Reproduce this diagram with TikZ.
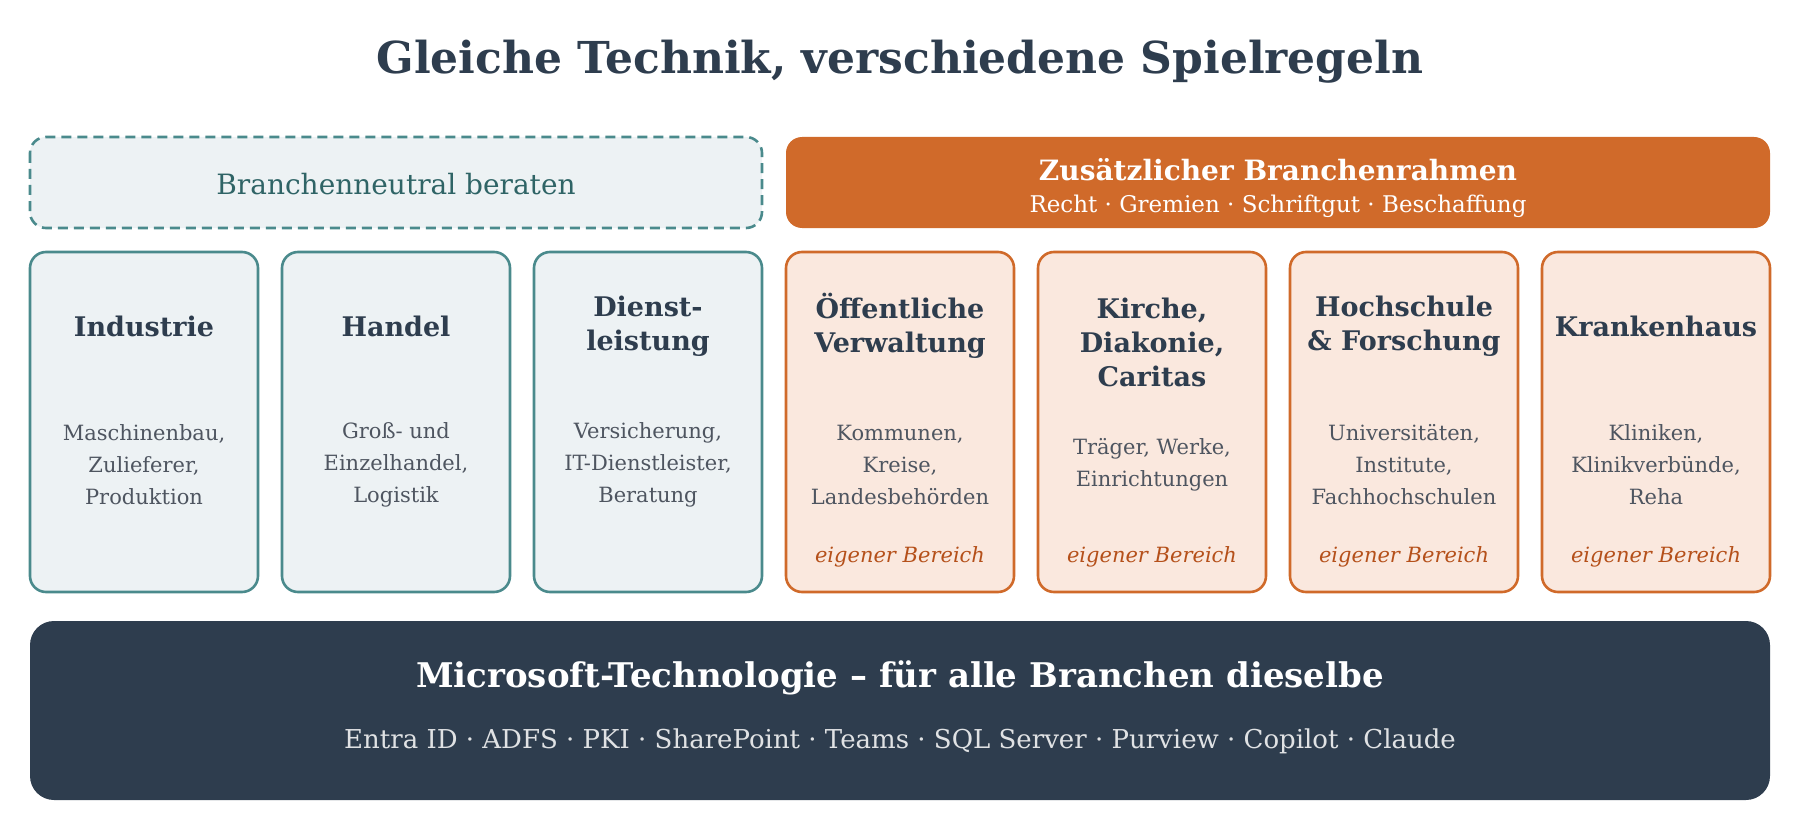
\documentclass[tikz,border=0pt]{standalone}
\usepackage{fontspec}
\setmainfont{DejaVu Serif}
\definecolor{dark}{HTML}{2E3D4E}
\definecolor{teal}{HTML}{4A8A8C}
\definecolor{tealfill}{HTML}{EDF2F4}
\definecolor{tealtext}{HTML}{2F6466}
\definecolor{orng}{HTML}{D06A2A}
\definecolor{orngfill}{HTML}{FAE8DE}
\definecolor{orngtext}{HTML}{B5501A}
\definecolor{graytext}{HTML}{4E5560}
\begin{document}
\begin{tikzpicture}[x=0.5pt,y=-0.5pt,
  tcard/.style={draw=teal,fill=tealfill,line width=1.3pt,rounded corners=8pt},
  ocard/.style={draw=orng,fill=orngfill,line width=1.3pt,rounded corners=8pt},
  ctitle/.style={font=\fontsize{13.5}{17}\selectfont\bfseries,text=dark,align=center},
  cbody/.style={font=\fontsize{10.5}{16}\selectfont,text=graytext,align=center},
  cown/.style={font=\fontsize{10.5}{13}\selectfont\itshape,text=orngtext}]
\useasboundingbox (0,0) rectangle (1800,840);
\node[font=\fontsize{22}{26}\selectfont\bfseries,text=dark] (title) at (900,62) {Gleiche Technik, verschiedene Spielregeln};
\draw[draw=teal,fill=tealfill,line width=1.3pt,dash pattern=on 5pt off 3pt,rounded corners=8pt] (30,137) rectangle (762,228);
\node[font=\fontsize{14}{17}\selectfont,text=tealtext] (neutral) at (396,184) {Branchenneutral beraten};
\fill[orng,rounded corners=8pt] (786,137) rectangle (1770,228);
\node[font=\fontsize{14}{17}\selectfont\bfseries,text=white] (zus) at (1278,170) {Zusätzlicher Branchenrahmen};
\node[font=\fontsize{11.5}{14}\selectfont,text=white] (zussub) at (1278,206) {Recht · Gremien · Schriftgut · Beschaffung};
% teal cards
\foreach \x/\t/\b [count=\i] in {30/Industrie/{Maschinenbau,\\Zulieferer,\\Produktion},
  282/Handel/{Groß- und\\Einzelhandel,\\Logistik},
  534/{Dienst-\\leistung}/{Versicherung,\\IT-Dienstleister,\\Beratung}}{
  \draw[tcard] (\x,252) rectangle (\x+228,592);
  \node[ctitle] (tt\i) at (\x+114,326) {\t};
  \node[cbody] (tb\i) at (\x+114,465) {\b};
}
\foreach \x/\t/\b/\ty/\by [count=\i] in {786/{Öffentliche\\Verwaltung}/{Kommunen,\\Kreise,\\Landesbehörden}/326/465,
  1038/{Kirche,\\Diakonie,\\Caritas}/{Träger, Werke,\\Einrichtungen}/342/465,
  1290/{Hochschule\\\& Forschung}/{Universitäten,\\Institute,\\Fachhochschulen}/326/465,
  1542/Krankenhaus/{Kliniken,\\Klinikverbünde,\\Reha}/326/465}{
  \draw[ocard] (\x,252) rectangle (\x+228,592);
  \node[ctitle] (ot\i) at (\x+114,\ty) {\t};
  \node[cbody] (ob\i) at (\x+114,\by) {\b};
  \node[cown] (oe\i) at (\x+114,557) {eigener Bereich};
}
\node[cbody] at (1152,465) {\phantom{x}};
\fill[dark,rounded corners=12pt] (30,621) rectangle (1770,800);
\node[font=\fontsize{17}{20}\selectfont\bfseries,text=white] (ms) at (900,678) {Microsoft-Technologie – für alle Branchen dieselbe};
\node[font=\fontsize{13}{16}\selectfont,text=white!85!dark] (mssub) at (900,741) {Entra ID · ADFS · PKI · SharePoint · Teams · SQL Server · Purview · Copilot · Claude};
\end{tikzpicture}
\end{document}
